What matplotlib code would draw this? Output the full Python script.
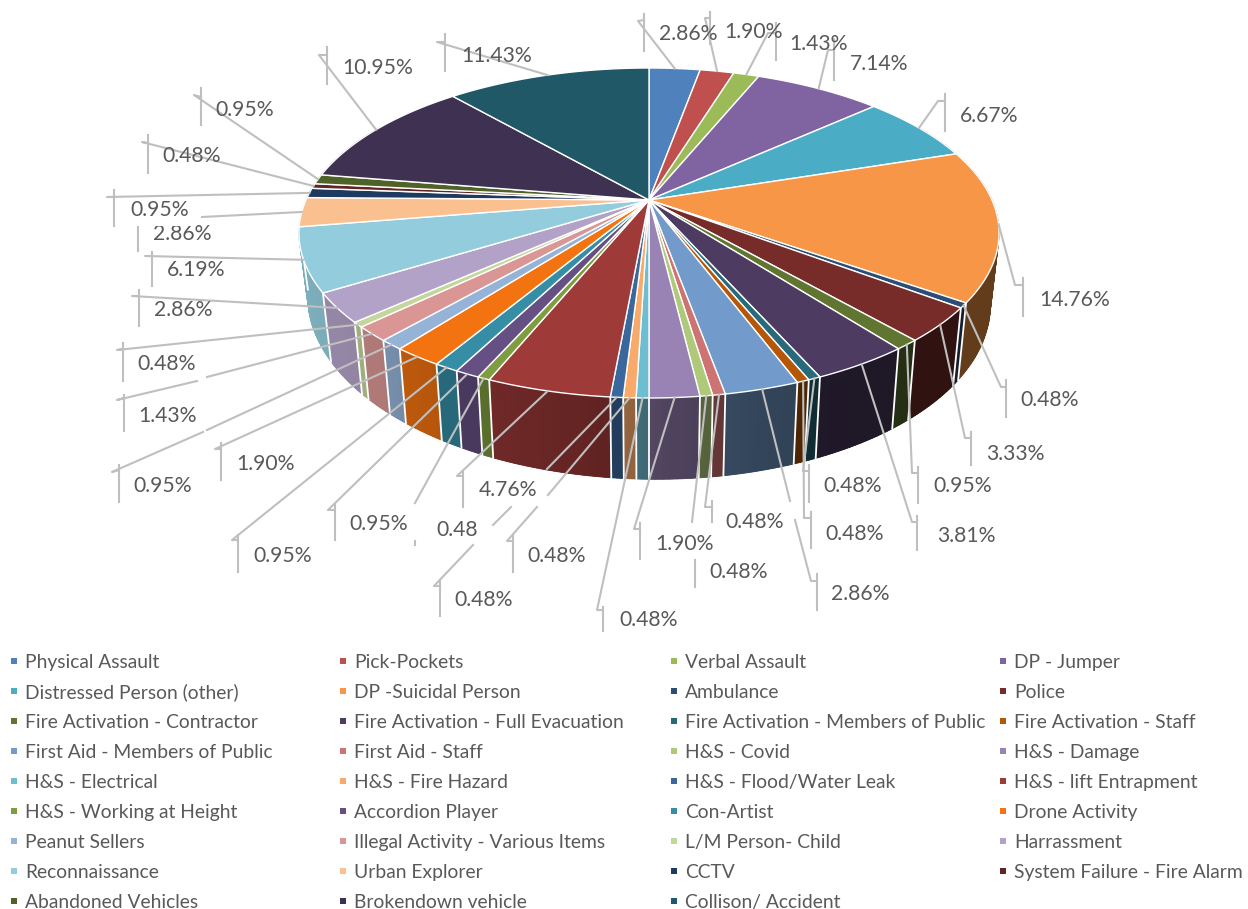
"""
Incident share 3D pie, drawn by hand because matplotlib has no perspective pie.
"""
import numpy as np
import matplotlib
matplotlib.use("Agg")
import matplotlib.pyplot as plt
from matplotlib.patches import Polygon, Rectangle

CATEGORIES = [
    "Physical Assault", "Pick-Pockets", "Verbal Assault", "DP - Jumper",
    "Distressed Person (other)", "DP -Suicidal Person", "Ambulance", "Police",
    "Fire Activation - Contractor", "Fire Activation - Full Evacuation",
    "Fire Activation - Members of Public", "Fire Activation - Staff",
    "First Aid - Members of Public", "First Aid - Staff", "H&S - Covid", "H&S - Damage",
    "H&S - Electrical", "H&S - Fire Hazard", "H&S - Flood/Water Leak", "H&S - lift Entrapment",
    "H&S - Working at Height", "Accordion Player", "Con-Artist", "Drone Activity",
    "Peanut Sellers", "Illegal Activity - Various Items", "L/M Person- Child", "Harrassment",
    "Reconnaissance", "Urban Explorer", "CCTV", "System Failure - Fire Alarm",
    "Abandoned Vehicles", "Brokendown vehicle", "Collison/ Accident",
]
VALUES = [
    2.86, 1.90, 1.43, 7.14, 6.67, 14.76, 0.48, 3.33,
    0.95, 3.81, 0.48, 0.48, 2.86, 0.48, 0.48, 1.90,
    0.48, 0.48, 0.48, 4.76, 0.48, 0.95, 0.95, 1.90,
    0.95, 1.43, 0.48, 2.86, 6.19, 2.86, 0.95, 0.48,
    0.95, 10.95, 11.43,
]
COLORS = [
    "#4F81BD", "#C0504D", "#9BBB59", "#8064A2", "#4BACC6", "#F79646",
    "#2C4D75", "#772C2A", "#5F7530", "#4D3B62", "#276A7C", "#B65708",
    "#729ACA", "#CD7371", "#AFC97A", "#9983B5", "#6FBDD1", "#F9AA6B",
    "#3A679C", "#9E3A38", "#7E9C40", "#664F83", "#358EA6", "#F37310",
    "#95B3D7", "#D99694", "#C3D69B", "#B2A2C7", "#93CDDD", "#FAC090",
    "#1F3A5F", "#632523", "#4F6228", "#3F3151", "#205867",
]

# label layout, in picture pixels
LABEL_POS = [
    (688, 33), (754, 31), (819, 43), (879, 62), (989, 114), (1075, 299), (1050, 399), (1015, 452),
    (963, 485), (966, 535), (853, 484), (855, 532), (860, 593), (755, 520), (739, 570), (685, 542),
    (649, 619), (557, 554), (484, 598), (508, 489), (457, 528), (379, 523), (283, 554), (266, 463),
    (163, 485), (168, 414), (167, 363), (183, 309), (196, 268), (182, 233), (160, 209), (192, 155),
    (245, 108), (378, 67), (497, 54),
]
# leader points after the rim anchor, None lifts the pen
LEADERS = [
    [(638, 21), (644, 20)], [(705, 18), (710, 18)], [(768, 33), (776, 33)], [(828, 50), (834, 50)],
    [(938, 101), (945, 101)], [(1015, 285), (1023, 285)], [(1001, 387), (1006, 387)],
    [(965, 438), (971, 438)], [(912, 473), (918, 473)], [(912, 522), (917, 522)],
    [(803, 471), (809, 471)], [(804, 518), (811, 518)],
    [(790, 501), None, (795, 520), (811, 581), (817, 581)], [(705, 507), (712, 507)],
    [(692, 522)], [(634, 529), (640, 529)], [(597, 610), (603, 610)],
    [(548, 495), None, (537, 507), (507, 541), (513, 541)],
    [(547, 469), None, (511, 507), (493, 525), None, (473, 545), (434, 586), (440, 586)],
    [(457, 476), (463, 476)], [(415, 503)], [(328, 510), (335, 510)], [(232, 540), (238, 540)],
    [(215, 449), (221, 449)], [(207, 430), None, (203, 432), (112, 472), (119, 470)],
    [(207, 377), None, (197, 381), (117, 400), (124, 398)], [(117, 350), (123, 349)],
    [(132, 296), (139, 296)], [(145, 256), (152, 256)], [(202, 217)], [(107, 197), (114, 197)],
    [(142, 142), (148, 143)], [(194, 95), (201, 97)], [(319, 55), (327, 55)], [(437, 42), (445, 42)],
]
TICKS = [
    (644, 14, 51), (710, 12, 44), (776, 23, 60), (834, 39, 80), (945, 94, 131), (1023, 278, 316),
    (1006, 380, 417), (971, 432, 465), (918, 467, 503), (917, 516, 550), (809, 465, 502),
    (811, 512, 548), (817, 574, 610), (712, 501, 522), (695, 560, 587), (640, 523, 559),
    (603, 607, 631), (513, 535, 572), (440, 580, 616), (463, 471, 507), (415, 541, 545),
    (335, 505, 540), (238, 535, 572), (221, 443, 480), (119, 465, 502), (124, 395, 431),
    (123, 343, 381), (139, 290, 326), (152, 252, 286), (138, 227, 251), (114, 190, 226),
    (148, 135, 173), (201, 88, 125), (327, 47, 84), (445, 34, 71),
]

# side shading against clockwise angle from north
SHADE_ANGLE = [60, 150, 165, 178, 182, 194, 207, 217, 221, 233, 250, 300]
SHADE_FACTOR = [0.40, 0.40, 0.45, 0.52, 0.58, 0.66, 0.73, 0.77, 0.80, 0.83, 0.85, 0.85]

CX, CY = 649, 200
A, B, K = 343, 158.4, 0.2
LINE = "#BFBFBF"
TEXT = "#595959"
FONT = "Lato"


def rim(theta):
    """clockwise degrees from north to top rim pixels, with perspective"""
    t = np.radians(theta)
    u, v = np.sin(t), -np.cos(t)
    w = 1 - K * v
    return CX + A * u / w, CY + B * v / w


def floor(theta):
    t = np.radians(theta)
    u, v = np.sin(t), -np.cos(t)
    w = 1 - K * v
    x, y = rim(theta)
    return CX + (x - CX) * 0.975, y + 65 / w + 4.5 * u


def shade(color, theta):
    f = np.interp(theta, SHADE_ANGLE, SHADE_FACTOR)
    return tuple(c * f for c in matplotlib.colors.to_rgb(color))


def plot_pie():
    fig = plt.figure(figsize=(12.48, 9.09), dpi=100)
    ax = fig.add_axes([0, 0, 1, 1])
    ax.set_xlim(0, 1248)
    ax.set_ylim(909, 0)
    ax.axis("off")

    vals = np.array(VALUES)
    edges = np.concatenate([[0], np.cumsum(vals)]) / vals.sum() * 360

    # sides, back pieces first; a flat underlay keeps the strips free of seams
    pieces = []
    for i, color in enumerate(COLORS):
        a0, a1 = max(edges[i], 60), min(edges[i + 1], 300)
        if a1 > a0:
            pieces.append((a0, a1, color))
    pieces.sort(key=lambda r: -np.cos(np.radians((r[0] + r[1]) / 2)))
    for a0, a1, color in pieces:
        arc = np.linspace(a0, a1, max(3, int((a1 - a0) * 2)))
        outline = [rim(a) for a in arc] + [floor(a) for a in arc[::-1]]
        ax.add_patch(Polygon(outline, closed=True, facecolor=shade(color, (a0 + a1) / 2),
                             edgecolor="none", zorder=1))
        steps = np.arange(a0, a1, 1.0).tolist() + [a1]
        for s0, s1 in zip(steps[:-1], steps[1:]):
            c = shade(color, (s0 + s1) / 2)
            ax.add_patch(Polygon([rim(s0), rim(s1), floor(s1), floor(s0)], closed=True,
                                 facecolor=c, edgecolor=c, linewidth=0.6, zorder=1))
    for a in edges:
        if 100 < a < 262:
            p0, p1 = rim(a), floor(a)
            ax.plot([p0[0], p1[0]], [p0[1], p1[1]], color="white", lw=1.3, zorder=2)

    # top face
    for i, color in enumerate(COLORS):
        arc = np.linspace(edges[i], edges[i + 1], max(3, int((edges[i + 1] - edges[i]) * 2)))
        pts = [(CX, CY)] + [rim(a) for a in arc]
        ax.add_patch(Polygon(pts, closed=True, facecolor=color, edgecolor="white",
                             linewidth=1.0, joinstyle="round", zorder=3))

    # leaders
    for i, path in enumerate(LEADERS):
        mid = (edges[i] + edges[i + 1]) / 2
        run = [rim(mid)]
        for p in path + [None]:
            if p is None:
                ax.plot([q[0] for q in run], [q[1] for q in run], color=LINE, lw=1.5, zorder=4)
                run = []
            else:
                run.append(p)
        x, y0, y1 = TICKS[i]
        ax.plot([x, x], [y0, y1], color=LINE, lw=1.5, zorder=4)

    # labels; the 0.95% box clips the top of the 2.86% under it
    ax.add_patch(Rectangle((125, 198), 72, 27.5, facecolor="white", edgecolor="none", zorder=5.5))
    for i, (x, y) in enumerate(LABEL_POS):
        txt = "0.48" if i == 20 else f"{VALUES[i]:.2f}%"
        ax.text(x, y + 7.5, txt, ha="center", va="baseline", fontsize=15.2, color=TEXT,
                family=FONT, zorder=6 if i == 30 else 5)

    # legend
    col_x = [14, 343, 674, 1003]
    for i, name in enumerate(CATEGORIES):
        row, col = divmod(i, 4)
        y = 661 + row * 30
        ax.add_patch(Rectangle((col_x[col] - 3, y - 3), 6, 6, facecolor=COLORS[i],
                               edgecolor="none", zorder=3))
        ax.text(col_x[col] + 11, y + 7, name, ha="left", va="baseline", fontsize=13.9,
                color=TEXT, family=FONT)

    fig.savefig("out.png", dpi=100)
    plt.close()


if __name__ == "__main__":
    plot_pie()
